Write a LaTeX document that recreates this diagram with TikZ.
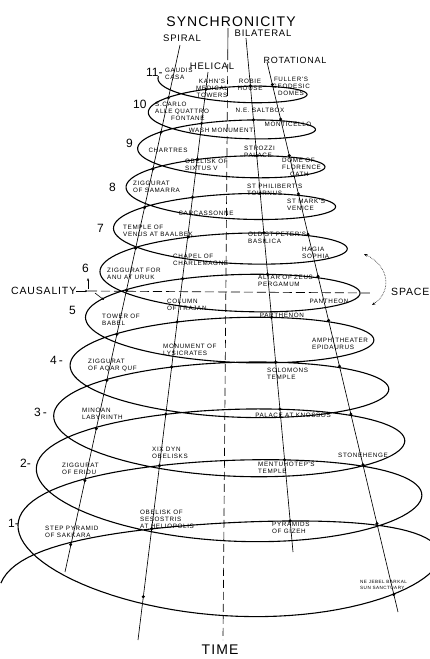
\documentclass[tikz,border=0pt]{standalone}
\usepackage{fontspec}
\setmainfont{Liberation Sans}
\newfontfamily\lblfont[LetterSpace=10]{Liberation Sans}
\newfontfamily\capfont[LetterSpace=8]{Liberation Sans}
\usetikzlibrary{arrows.meta}
\begin{document}
\begin{tikzpicture}[x=1pt,y=-1pt,
  declare function={
    spx(\u)=224.11+0.26*\u+0.03*\u*\u+(225.39-19.5*\u+0.51*\u*\u)*cos(180+360*\u);
    spy(\u)=580.5-58.66*\u+1.18*\u*\u+13*exp(-2*\u)+(8+58*exp(0.1-0.2*\u))*sin(180+360*\u)+15*exp(0.3846-0.7692*\u)*sin(180+360*\u)*sin(180+360*\u);
  },
  lbl/.style={font=\lblfont\fontsize{6.3}{7}\selectfont, align=left, inner sep=0pt, anchor=west},
  lblc/.style={lbl, align=center, anchor=center},
  num/.style={font=\fontsize{12}{12}\selectfont, inner sep=0pt, anchor=west},
  ttl/.style={font=\capfont\fontsize{9.5}{10}\selectfont, inner sep=0pt},
  radial/.style={line width=0.65pt},
  spir/.style={line width=1.1pt},
  dot/.style={circle, fill=black, inner sep=0pt, minimum size=3.4pt},
]
\useasboundingbox (0,0) rectangle (430,659);
\fill[white] (0,0) rectangle (430,659);

% radial lines
\coordinate (spT) at (180,45);  \coordinate (spB) at (65,572);
\coordinate (heT) at (208,72);  \coordinate (heB) at (138,640);
\coordinate (tiT) at (228,28);  \coordinate (tiM) at (227.8,52); \coordinate (tiB) at (223,640);
\coordinate (biT) at (246,38);  \coordinate (biB) at (293,552);
\coordinate (roT) at (267,62);  \coordinate (roB) at (398,612);
\draw[radial] (spT) -- (spB);
\draw[radial] (heT) -- (heB);
\draw[radial] (tiT) -- (tiM);
\draw[radial, dash pattern=on 8pt off 4pt] (tiM) -- (tiB);
\draw[radial] (biT) -- (biB);
\draw[radial] (roT) -- (roB);

% causality / space axis
\coordinate (caxL) at (88,291); \coordinate (caxR) at (372,293);
\draw[radial, dash pattern=on 9pt off 4pt] (caxL) -- (caxR);

% spiral
\draw[spir, variable=\u, domain=0.02:11.02, samples=1100] plot ({spx(\u)},{spy(\u)});

% marked crossings of the spiral with the radial lines
\foreach \p in {
  (70.6,544.6),(151.7,528.6),(290.1,520.9),(377,523.5),(143.3,596.7),(393.7,594.5),
  (84.9,480.6),(159.5,465.6),(284.6,459.8),(363,464.9),
  (96.3,428.6),(165.8,414.2),(279.9,409.1),(350.9,414.1),
  (106.8,380.3),(171.7,366.9),(275.6,362.2),(339.5,366.2),
  (116.8,334.3),(177.2,321.8),(271.5,317.3),(328.6,320.4),
  (126.5,290.3),(182.6,278.7),(267.6,274.3),(318,276.4),
  (135.6,248.2),(188.3,236.9),(263.8,232.7),(308,234.2),
  (144.5,207.6),(192.5,197.3),(260.2,193.3),(298.4,193.9),
  (152.9,169.0),(197.3,159.4),(256.8,155.6),(289.3,155.6),
  (160.9,132.3),(201.6,123.4),(253.5,119.9),(280.6,119.1),
  (168.5,97.7),(205.8,89.3),(250.4,85.9),(272.4,84.6)}
  { \node[dot] at \p {}; }

% titles
\node[font=\capfont\fontsize{14}{14}\selectfont, inner sep=0pt] (synch) at (231,22) {SYNCHRONICITY};
\node[ttl] (spiral) at (182,38.5) {SPIRAL};
\node[ttl] (bilat) at (263,33.5) {BILATERAL};
\node[ttl] (helical) at (212,66) {HELICAL};
\node[ttl, font=\capfont\fontsize{9}{10}\selectfont] (rotat) at (295,60) {ROTATIONAL};
\node[font=\capfont\fontsize{10.5}{11}\selectfont, inner sep=0pt, anchor=west] (causal) at (11,291) {CAUSALITY};
\node[font=\capfont\fontsize{10.5}{11}\selectfont, inner sep=0pt, anchor=west] (space) at (391,292) {SPACE};
\node[font=\capfont\fontsize{14}{14}\selectfont, inner sep=0pt] (time) at (220,650) {TIME};

% small arrows
\draw[line width=0.6pt, -{Stealth[length=3pt]}] (causal.east) -- (caxL);
\coordinate (rs1) at (364,254); \coordinate (rs2) at (372,305);
\draw[densely dotted, line width=0.6pt, {Stealth[length=3.5pt]}-{Stealth[length=3.5pt]}] (rs1) .. controls (390,266) and (392,292) .. (rs2);
\coordinate (la1) at (88,289); \coordinate (la2) at (88,278);
\draw[line width=0.6pt, -{Stealth[length=3pt]}] (la1) -- (la2);
\coordinate (lb1) at (95,293); \coordinate (lb2) at (104,300);
\draw[line width=0.6pt, -{Stealth[length=3pt]}] (lb1) -- (lb2);

% level numbers
\node[num] (n11) at (146,72) {11-};
\node[num] (n10) at (133,104) {10};
\node[num] (n9) at (126,143) {9};
\node[num] (n8) at (109,187) {8};
\node[num] (n7) at (97,228) {7};
\node[num] (n6) at (82,268) {6};
\node[num] (n5) at (69,310) {5};
\node[num] (n4) at (50,360) {4\,-};
\node[num] (n3) at (34,412) {3\,-};
\node[num] (n2) at (20,463) {2-};
\node[num] (n1) at (8,523) {1-};

% building labels
\node[lbl] (gaudi) at (165,74) {GAUDIS\\CASA};
\node[lblc] (kahn) at (212,88) {KAHN'S\\MEDICAL\\TOWERS};
\node[lblc] (robie) at (250,85) {ROBIE\\HOUSE};
\node[lblc] (fuller) at (291,86) {FULLER'S\\GEODESIC\\DOMES};
\node[lbl] (scarlo) at (155,111) {S.CARLO\\ALLE QUATTRO\\\hspace{16pt}FONTANE};
\node[lblc] (saltbox) at (260,110) {N.E. SALTBOX};
\node[lblc] (monti) at (288,124) {MONTICELLO};
\node[lblc] (wash) at (221,130) {WASH MONUMENT};
\node[lblc] (chartres) at (168,150) {CHARTRES};
\node[lbl] (sixtus) at (185,165) {OBELISK OF\\SIXTUS V};
\node[lbl] (strozzi) at (244,152) {STROZZI\\PALACE};
\node[lbl] (florence) at (282,167) {DOME OF\\FLORENCE\\\hspace{8pt}CATH};
\node[lbl] (samarra) at (133,187) {ZIGGURAT\\OF SAMARRA};
\node[lbl] (philibert) at (247,190) {ST PHILIBERT'S\\TOURNUS};
\node[lbl] (marks) at (287,205) {ST MARK'S\\VENICE};
\node[lblc] (carca) at (206,213) {CARCASSONNE};
\node[lbl] (baalbek) at (123,231) {TEMPLE OF\\VENUS AT BAALBEK};
\node[lbl] (peters) at (248,238) {OLD ST PETER'S\\BASILICA};
\node[lbl] (sophia) at (302,253) {HAGIA\\SOPHIA};
\node[lbl] (charle) at (173,260) {CHAPEL OF\\CHARLEMAGNE};
\node[lbl] (uruk) at (107,274) {ZIGGURAT FOR\\ANU AT URUK};
\node[lbl] (zeus) at (258,281) {ALTAR OF ZEUS\\PERGAMUM};
\node[lbl] (trajan) at (167,305) {COLUMN\\OF TRAJAN};
\node[lblc] (panth) at (329,301) {PANTHEON};
\node[lbl] (babel) at (102,320) {TOWER OF\\BABEL};
\node[lblc] (parth) at (282,315) {PARTHENON};
\node[lbl] (lysi) at (163,350) {MONUMENT OF\\LYSICRATES};
\node[lbl] (epid) at (312,344) {AMPHITHEATER\\EPIDAURUS};
\node[lbl] (aqar) at (88,365) {ZIGGURAT\\OF AQAR QUF};
\node[lbl] (solomon) at (267,374) {SOLOMONS\\TEMPLE};
\node[lbl] (minoan) at (82,414) {MINOAN\\LABYRINTH};
\node[lblc] (knossos) at (293,415) {PALACE AT KNOSSOS};
\node[lbl] (xix) at (152,453) {XIX DYN\\OBELISKS};
\node[lblc] (stone) at (363,455) {STONEHENGE};
\node[lbl] (eridu) at (62,469) {ZIGGURAT\\OF ERIDU};
\node[lbl] (mentu) at (258,468) {MENTUHOTEP'S\\TEMPLE};
\node[lbl] (sakkara) at (45,532) {STEP PYRAMID\\OF SAKKARA};
\node[lbl] (sesos) at (140,519) {OBELISK OF\\SESOSTRIS\\AT HELIOPOLIS};
\node[lbl] (gizeh) at (272,528) {PYRAMIDS\\OF GIZEH};
\node[lbl, font=\lblfont\fontsize{4.6}{5.2}\selectfont] (barkal) at (360,585) {NE JEBEL BARKAL\\SUN SANCTUARY};
\end{tikzpicture}
\end{document}
